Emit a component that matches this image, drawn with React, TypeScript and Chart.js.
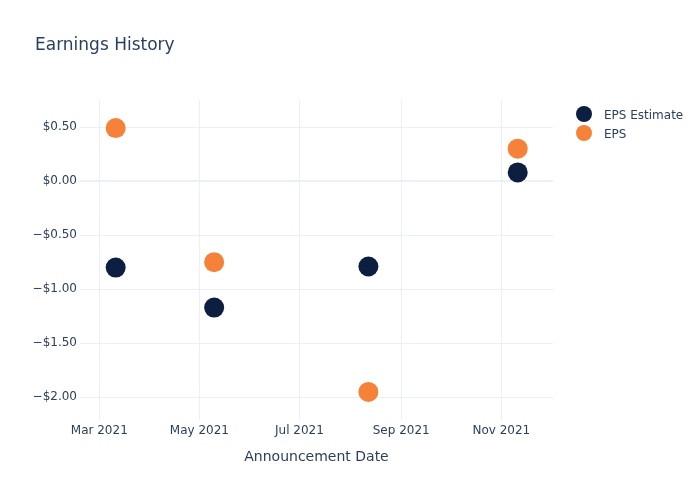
import React, { useEffect, useRef } from 'react';
import { Chart, registerables } from 'chart.js';

Chart.register(...registerables);

const announcementDates = ['2021-03-11', '2021-05-10', '2021-08-12', '2021-11-11'];
const epsEstimate = [-0.8, -1.17, -0.79, 0.08];
const epsActual = [0.49, -0.75, -1.95, 0.3];
const seriesNames = ['EPS Estimate', 'EPS'];
const seriesColors = ['#0c1f41', '#f58238'];
const xTickDates = ['2021-03-01', '2021-05-01', '2021-07-01', '2021-09-01', '2021-11-01'];
const xTickLabels = ['Mar 2021', 'May 2021', 'Jul 2021', 'Sep 2021', 'Nov 2021'];
const yTickValues = [-2, -1.5, -1, -0.5, 0, 0.5];
const xRange = ['2021-02-17T06:00:00Z', '2021-12-02T12:00:00Z'];
const yRange = [-2.21, 0.75];
const chartTitle = 'Earnings History';
const xAxisTitle = 'Announcement Date';

const FONT = '"DejaVu Sans", sans-serif';
const TEXT = '#2a3f5f';
const GRID = '#ebf0f8';

const toMs = (s: string) => Date.parse(s.length === 10 ? s + 'T00:00:00Z' : s);
const fmtMoney = (v: number) => (v < 0 ? '\u2212' : '') + '$' + Math.abs(v).toFixed(2);

const overlay = {
  id: 'overlay',
  afterDraw(chart: any) {
    const ctx = chart.ctx;
    ctx.save();
    ctx.textBaseline = 'alphabetic';
    ctx.textAlign = 'left';
    ctx.fillStyle = TEXT;
    ctx.font = '17px ' + FONT;
    ctx.fillText(chartTitle, 35, 50);
    ctx.font = '12px ' + FONT;
    chart.data.datasets.forEach((ds: any, i: number) => {
      const y = 114 + i * 19;
      ctx.beginPath();
      ctx.fillStyle = ds.backgroundColor;
      ctx.arc(584, y, 8, 0, Math.PI * 2);
      ctx.fill();
      ctx.fillStyle = TEXT;
      ctx.fillText(ds.label, 604, y + 5);
    });
    ctx.restore();
  },
};

export default function App() {
  const ref = useRef<HTMLCanvasElement>(null);
  useEffect(() => {
    if (!ref.current) return;
    const xs = announcementDates.map(toMs);
    const chart = new Chart(ref.current, {
      type: 'scatter',
      data: {
        datasets: [
          {
            label: seriesNames[0],
            data: xs.map((x, i) => ({ x, y: epsEstimate[i] })),
            backgroundColor: seriesColors[0],
            borderColor: seriesColors[0],
            borderWidth: 0,
            pointRadius: 10,
            pointHoverRadius: 10,
          },
          {
            label: seriesNames[1],
            data: xs.map((x, i) => ({ x, y: epsActual[i] })),
            backgroundColor: seriesColors[1],
            borderColor: seriesColors[1],
            borderWidth: 0,
            pointRadius: 10,
            pointHoverRadius: 10,
          },
        ],
      },
      options: {
        animation: false,
        responsive: false,
        devicePixelRatio: 1,
        layout: { padding: { left: 0, top: 100, right: 147, bottom: 0 } },
        plugins: { legend: { display: false }, title: { display: false }, tooltip: { enabled: false } },
        scales: {
          x: {
            type: 'linear',
            min: toMs(xRange[0]),
            max: toMs(xRange[1]),
            afterBuildTicks: (s: any) => {
              s.ticks = xTickDates.map((d) => ({ value: toMs(d) }));
            },
            afterFit: (s: any) => {
              s.height = 80;
            },
            ticks: {
              callback: (_v: any, i: number) => xTickLabels[i],
              font: { family: FONT, size: 12 },
              color: TEXT,
              padding: 4,
              maxRotation: 0,
              autoSkip: false,
            },
            grid: { color: GRID, drawTicks: false },
            border: { display: false },
            title: {
              display: true,
              text: xAxisTitle,
              font: { family: FONT, size: 14 },
              color: TEXT,
              padding: { top: 0, bottom: 34 },
            },
          },
          y: {
            type: 'linear',
            min: yRange[0],
            max: yRange[1],
            afterBuildTicks: (s: any) => {
              s.ticks = yTickValues.map((v) => ({ value: v }));
            },
            afterFit: (s: any) => {
              s.width = 80;
            },
            ticks: {
              callback: (v: any) => fmtMoney(Number(v)),
              font: { family: FONT, size: 12 },
              color: TEXT,
              padding: 3,
              autoSkip: false,
            },
            grid: {
              color: GRID,
              drawTicks: false,
              lineWidth: (c: any) => (c.tick && c.tick.value === 0 ? 2 : 1),
            },
            border: { display: false },
          },
        },
      },
      plugins: [overlay],
    } as any);
    return () => chart.destroy();
  }, []);
  return (
    <div style={{ position: 'absolute', left: 0, top: 0, width: 700, height: 500, background: '#fff' }}>
      <canvas ref={ref} width={700} height={500} style={{ display: 'block' }} />
    </div>
  );
}
